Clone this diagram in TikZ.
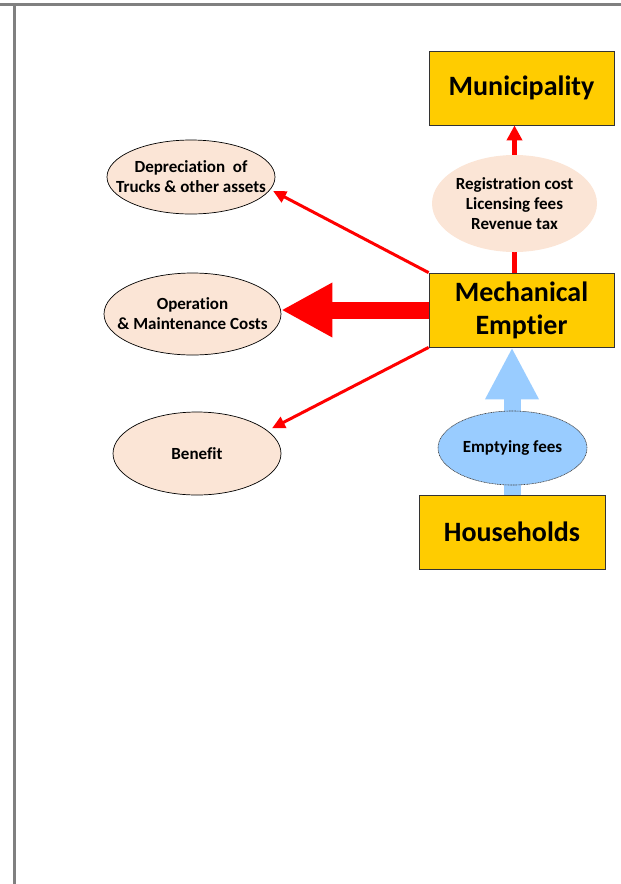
\documentclass[tikz,border=0pt]{standalone}
\usepackage{fontspec}
\setmainfont{Carlito}[Ligatures={NoCommon}]
\usetikzlibrary{shapes.geometric,arrows.meta}
\definecolor{boxyellow}{HTML}{FFCC00}
\definecolor{peach}{HTML}{FBE5D6}
\definecolor{lightblue}{HTML}{99CCFF}
\definecolor{framegray}{HTML}{808080}
\pgfdeclarelayer{background}
\pgfsetlayers{background,main}
\tikzset{
  bigbox/.style={rectangle, draw=black!80, line width=0.8pt, fill=boxyellow, inner sep=0pt,
    minimum width=185pt, minimum height=74pt, align=center,
    font=\fontsize{28}{33}\selectfont\bfseries},
  costell/.style={ellipse, draw=black, line width=0.7pt, fill=peach, inner sep=-30pt, align=center,
    font=\fontsize{17}{20}\selectfont\bfseries},
  regell/.style={ellipse, fill=peach, inner sep=-30pt, align=center,
    font=\fontsize{17}{20}\selectfont\bfseries},
  feeell/.style={ellipse, draw=black!75, line width=0.6pt, dash pattern=on 1pt off 0.6pt, fill=lightblue, inner sep=-30pt, align=center,
    font=\fontsize{17}{20}\selectfont\bfseries},
  thinred/.style={draw=red, line width=3pt, -{Triangle[length=13pt,width=12pt]}},
  midred/.style={draw=red, line width=4.5pt, -{Triangle[length=15pt,width=15pt]}},
  fatred/.style={draw=red, line width=17pt, -{Triangle[length=51pt,width=51pt]}},
  fatblue/.style={draw=lightblue, line width=17pt, -{Triangle[length=52pt,width=50pt]}},
}
\begin{document}
\begin{tikzpicture}[x=1pt,y=-1pt]
\useasboundingbox (0,0) rectangle (621,884);
% frame lines
\draw[framegray, line width=3pt] (0,4.5) -- (621,4.5);
\draw[framegray, line width=3pt] (14,3) -- (14,884);

% boxes
\node[bigbox] (muni) at (521.5,88) {Municipality};
\node[bigbox] (mech) at (521.5,310) {Mechanical\\Emptier};
\node[bigbox, minimum width=186pt] (house) at (512,532) {Households};

% ellipses
\node[regell, minimum width=165pt, minimum height=97pt] (reg) at (514.5,203.5) {Registration cost\\Licensing fees\\Revenue tax};
\node[costell, minimum width=168pt, minimum height=74pt] (dep) at (191,177) {Depreciation\ \ of\\Trucks \& other assets};
\node[costell, minimum width=177pt, minimum height=82pt] (op) at (192.5,314) {Operation\\\& Maintenance Costs};
\node[costell, minimum width=168pt, minimum height=83pt] (ben) at (197,453.5) {Benefit};
\node[feeell, minimum width=149pt, minimum height=74pt] (emp) at (512.5,448) {\color{black}Emptying fees};

% connectors
\begin{pgfonlayer}{background}
  \draw[midred] (mech.north -| reg.center) -- (reg.center |- muni.south);
  \draw[fatblue] (house.north) -- (house.north |- mech.south);
\end{pgfonlayer}
\draw[fatred] (mech.west) -- (mech.west -| op.east);
\draw[thinred, shorten >=3pt] (mech.north west) -- (dep.-9);
\draw[thinred, shorten >=5pt] (mech.south west) -- (ben.18);
\end{tikzpicture}
\end{document}
